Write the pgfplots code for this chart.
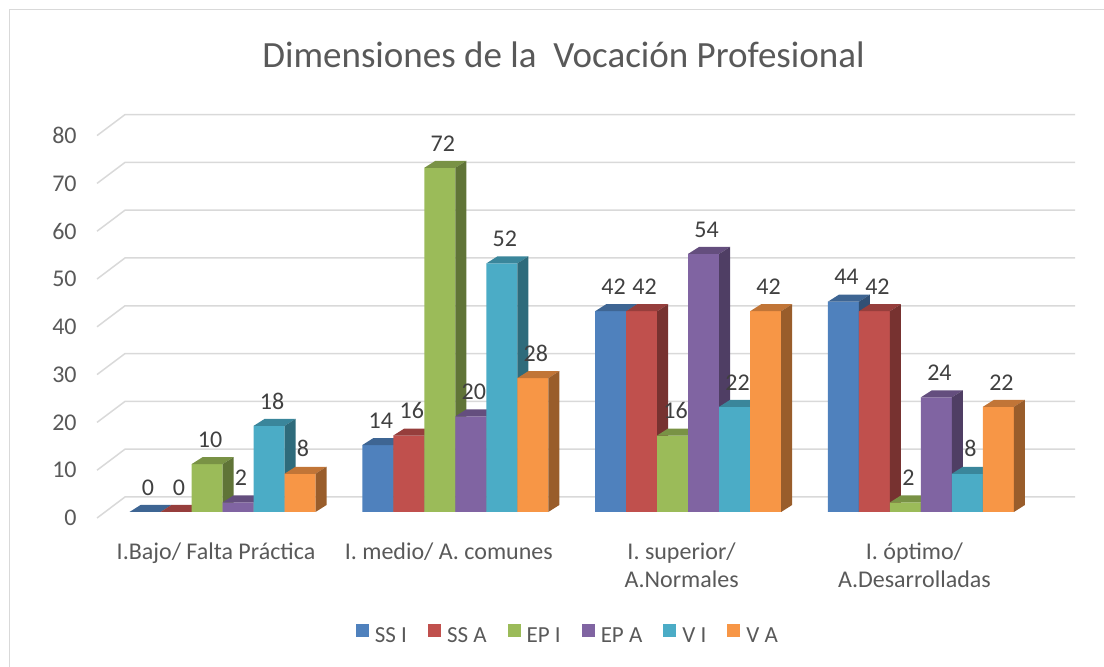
\documentclass[border=0pt]{standalone}
\usepackage{fontspec}
\setmainfont{Carlito}
\usepackage{pgfplots}
\usepackage{pgfplotstable}
\pgfplotsset{compat=1.18}

\definecolor{c1}{HTML}{4F81BD}
\definecolor{c2}{HTML}{C0504D}
\definecolor{c3}{HTML}{9BBB59}
\definecolor{c4}{HTML}{8064A2}
\definecolor{c5}{HTML}{4BACC6}
\definecolor{c6}{HTML}{F79646}
\definecolor{gridc}{HTML}{D9D9D9}
\definecolor{txt}{HTML}{595959}
\definecolor{lbl}{HTML}{404040}

\pgfdeclareplotmark{nothing}{}

\pgfplotstableread{
x SSI SSA EPI EPA VI VA
0 0 0 10 2 18 8
1 14 16 72 20 52 28
2 42 42 16 54 22 42
3 44 42 2 24 8 22
}\datatable

\pgfplotsset{
  bar3d/.style={%
    ybar, bar width=31pt, bar shift=0pt, fill=#1, draw=none,
    mark=nothing, scatter, point meta=y,
    visualization depends on={rawy \as \rawy},
    scatter/@pre marker code/.code={%
      \pgfmathsetmacro\hh{\rawy*4.78}%
      \pgfmathsetmacro\hb{7-\hh}%
      \fill[#1!78!black] (-15.5pt,0pt) -- (15.5pt,0pt) -- (26.5pt,7pt) -- (-4.5pt,7pt) -- cycle;
      \fill[#1!62!black] (15.5pt,0pt) -- (26.5pt,7pt) -- (26.5pt,\hb pt) -- (15.5pt,-\hh pt) -- cycle;
    },
    scatter/@post marker code/.code={},
    forget plot,
  },
  barlabel/.style={
    only marks, mark=nothing, point meta=y, forget plot,
    nodes near coords,
    every node near coord/.append style={anchor=south, inner sep=0pt, yshift=16.5pt, xshift=3pt,
      text=lbl, font=\fontsize{24}{29}\selectfont},
  }
}

\begin{document}
\begin{tikzpicture}
\path[use as bounding box] (0pt,0pt) rectangle (1104pt,667pt);
\draw[gridc, line width=1.5pt] (9.5pt,0pt) -- (9.5pt,657.5pt) -- (1104pt,657.5pt);
\node[anchor=base, text=txt, font=\fontsize{37}{44}\selectfont] at (563.5pt,599pt) {Dimensiones de la\ \ Vocación Profesional};
\begin{axis}[
  at={(96.8pt,155pt)}, anchor=south west,
  x=232.8pt, y=4.78pt,
  xmin=-0.54, xmax=3.7, ymin=0, ymax=84,
  clip=false, clip mode=individual,
  axis line style={draw=none},
  major tick length=0pt,
  tick style={draw=none},
  /pgf/number format/assume math mode=true,
  ytick={0,10,20,30,40,50,60,70,80},
  yticklabel style={anchor=east, inner sep=0pt, xshift=-20pt, yshift=-6pt,
    text=txt, font=\fontsize{24}{29}\selectfont},
  xtick={0,1,2,3},
  xticklabels={{I.Bajo/ Falta Práctica},{I. medio/ A. comunes},{I. superior/\\A.Normales},{I. óptimo/\\A.Desarrolladas}},
  xticklabel style={anchor=north, align=center, inner sep=0pt, yshift=-31pt, xshift=-6.5pt,
    text=txt, font=\fontsize{24}{28}\selectfont},
  legend image code/.code={\fill[#1] (0pt,-1pt) rectangle (13pt,12pt);},
  legend columns=6,
  legend style={at={(0.4763,-0.304)}, anchor=center, draw=none, fill=none,
    font=\fontsize{23}{28}\selectfont, text=txt,
    nodes={inner sep=0pt},
    /tikz/every odd column/.append style={column sep=6pt},
    /tikz/every even column/.append style={column sep=21pt}},
]
\pgfplotsinvokeforeach{0,10,20,30,40,50,60,70,80}{
  \draw[gridc, line width=1.5pt] ([yshift=-6pt]axis cs:-0.539,#1) -- ([yshift=15pt]axis cs:-0.419,#1) -- ([yshift=15pt]axis cs:3.662,#1);
}
% bars (front, top and side faces)
\addplot[bar3d=c1] table[x expr=\thisrow{x}-0.3329, y=SSI]{\datatable};
\addplot[bar3d=c2] table[x expr=\thisrow{x}-0.1997, y=SSA]{\datatable};
\addplot[bar3d=c3] table[x expr=\thisrow{x}-0.0666, y=EPI]{\datatable};
\addplot[bar3d=c4] table[x expr=\thisrow{x}+0.0666, y=EPA]{\datatable};
\addplot[bar3d=c5] table[x expr=\thisrow{x}+0.1997, y=VI]{\datatable};
\addplot[bar3d=c6] table[x expr=\thisrow{x}+0.3329, y=VA]{\datatable};
% data labels
\addplot[barlabel] table[x expr=\thisrow{x}-0.3329, y=SSI]{\datatable};
\addplot[barlabel] table[x expr=\thisrow{x}-0.1997, y=SSA]{\datatable};
\addplot[barlabel] table[x expr=\thisrow{x}-0.0666, y=EPI]{\datatable};
\addplot[barlabel] table[x expr=\thisrow{x}+0.0666, y=EPA]{\datatable};
\addplot[barlabel] table[x expr=\thisrow{x}+0.1997, y=VI]{\datatable};
\addplot[barlabel] table[x expr=\thisrow{x}+0.3329, y=VA]{\datatable};
\addlegendimage{fill=c1, draw=none}\addlegendentry{SS I}
\addlegendimage{fill=c2, draw=none}\addlegendentry{SS A}
\addlegendimage{fill=c3, draw=none}\addlegendentry{EP I}
\addlegendimage{fill=c4, draw=none}\addlegendentry{EP A}
\addlegendimage{fill=c5, draw=none}\addlegendentry{V I}
\addlegendimage{fill=c6, draw=none}\addlegendentry{V A}
\end{axis}
\end{tikzpicture}
\end{document}
